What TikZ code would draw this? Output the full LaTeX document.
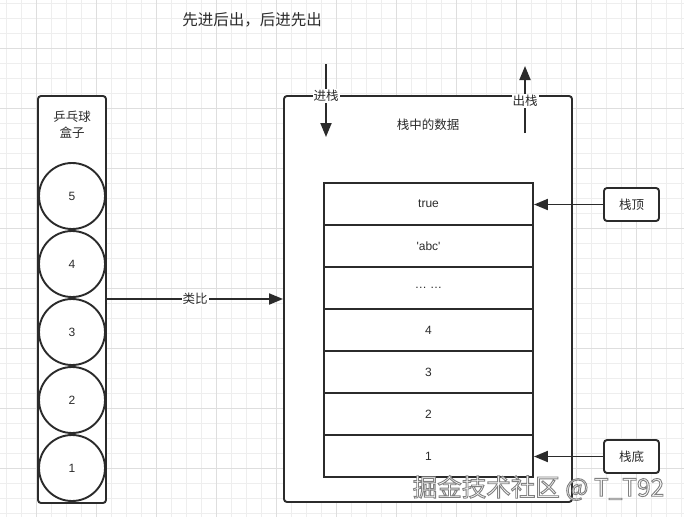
\documentclass[tikz,border=0pt]{standalone}
\usepackage{fontspec}
\setmainfont{Liberation Sans}
\newfontfamily\cjk{Noto Sans CJK SC}
\usetikzlibrary{arrows.meta}
\definecolor{ink}{HTML}{2B2B2B}
\definecolor{gridminor}{HTML}{EEEEEE}
\definecolor{gridmajor}{HTML}{DEDEDE}
\begin{document}
\begin{tikzpicture}[x=1pt,y=-1pt,
  frame/.style={draw=ink, line width=1.9pt, fill=white, rounded corners=3pt, inner sep=0pt},
  ball/.style={circle, draw=ink, line width=1.9pt, fill=white, minimum size=66pt, inner sep=0pt, font=\fontsize{12}{14}\selectfont, text=ink},
  cell/.style={rectangle, draw=ink, line width=1.9pt, fill=white, minimum width=209pt, minimum height=42pt, inner sep=0pt, font=\fontsize{12}{14}\selectfont, text=ink},
  tag/.style={rectangle, draw=ink, line width=1.9pt, fill=white, rounded corners=3pt, minimum width=55pt, minimum height=33pt, inner sep=0pt, font=\cjk\fontsize{12.5}{14}\selectfont, text=ink},
  arr/.style={draw=ink, line width=1.9pt, -{Triangle[length=14pt,width=11pt]}},
  lbl/.style={fill=white, inner sep=1pt, font=\cjk\fontsize{12.5}{14}\selectfont, text=ink},
  txt/.style={font=\cjk\fontsize{12.5}{16}\selectfont, text=ink, align=center}]
\useasboundingbox (0,0) rectangle (684,517);
\fill[white] (0,0) rectangle (684,517);
% grid
\foreach \i in {0,...,45} {\draw[gridminor, line width=0.8pt] ({6.7+15*\i},0) -- ({6.7+15*\i},517);}
\foreach \j in {0,...,34} {\draw[gridminor, line width=0.8pt] (0,{3.3+15*\j}) -- (684,{3.3+15*\j});}
\foreach \i in {0,...,10} {\draw[gridmajor, line width=0.8pt] ({36.7+60*\i},0) -- ({36.7+60*\i},517);}
\foreach \j in {0,...,7} {\draw[gridmajor, line width=0.8pt] (0,{48.3+60*\j}) -- (684,{48.3+60*\j});}

% title
\node[font=\cjk\fontsize{15.5}{18}\selectfont, text=ink] (title) at (252,20) {先进后出，后进先出};

% ping-pong box
\node[frame, minimum width=68pt, minimum height=407pt] (ballbox) at (72,299.5) {};
\node[txt] (boxlabel) at (72,125) {乒乓球\\盒子};
\node[ball] (b5) at (72,196) {5};
\node[ball] (b4) at (72,264) {4};
\node[ball] (b3) at (72,332) {3};
\node[ball] (b2) at (72,400) {2};
\node[ball] (b1) at (72,468) {1};

% stack container
\node[frame, minimum width=288pt, minimum height=406pt] (bigbox) at (428,299) {};
\node[txt] (stacklabel) at (428,125) {栈中的数据};

% cells
\node[cell] (c7) at (428.5,204) {true};
\node[cell] (c6) at (428.5,246) {\textquotesingle abc\textquotesingle};
\node[cell] (c5) at (428.5,288) {… …};
\node[cell] (c4) at (428.5,330) {4};
\node[cell] (c3) at (428.5,372) {3};
\node[cell] (c2) at (428.5,414) {2};
\node[cell] (c1) at (428.5,456) {1};

% pointers
\node[tag] (top) at (631.5,204.5) {栈顶};
\node[tag] (bottom) at (631.5,456.5) {栈底};
\draw[arr] (top.west) -- (c7.east |- top.west);
\draw[arr] (bottom.west) -- (c1.east |- bottom.west);

% analogy arrow
\draw[arr] (ballbox.east |- bigbox.west) -- node[lbl] {类比} (bigbox.west);

% push / pop
\coordinate (pushS) at (326,64);
\coordinate (pushE) at (326,137);
\coordinate (popS) at (525,133);
\coordinate (popE) at (525,66);
\draw[arr] (pushS) -- node[lbl, pos=0.438] {进栈} (pushE);
\draw[arr] (popS) -- node[lbl, pos=0.478] {出栈} (popE);

% watermark: white letters with a grey outline
\node[font=\cjk\fontsize{24.5}{28}\selectfont, text=white] (wm) at (538.5,488)
  {\special{pdf:literal direct 2 Tr 0.9 w 0.5 0.5 0.5 RG}掘金技术社区 @ T\_T92\special{pdf:literal direct 0 Tr}};
\end{tikzpicture}
\end{document}
